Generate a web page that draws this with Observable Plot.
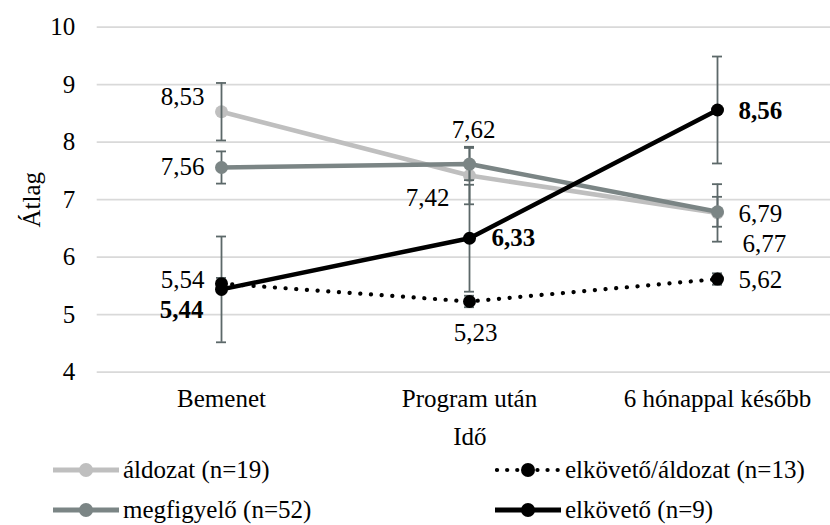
<!DOCTYPE html>
<html><head><meta charset="utf-8">
<script src="https://cdn.jsdelivr.net/npm/d3@7"></script>
<script src="https://cdn.jsdelivr.net/npm/@observablehq/plot@0.6"></script>
<style>
body{margin:0;background:#fff;overflow:hidden;font-family:"Liberation Serif","Times New Roman",serif;}
svg text{font-family:"Liberation Serif","Times New Roman",serif;}
#legend{position:relative;width:830px;height:73px;font-size:25px;color:#000;}
.item{position:absolute;display:flex;align-items:center;height:30px;white-space:nowrap;}
.item svg{margin-right:4px;display:block;}
</style></head><body><div id="chart"></div><div id="legend"></div>
<script>
// ---- data ----
const times = ["Bemenet", "Program után", "6 hónappal később"];
const seriesNames = ["áldozat (n=19)", "megfigyelő (n=52)", "elkövető/áldozat (n=13)", "elkövető (n=9)"];
const aldozat = [8.53, 7.42, 6.77];
const aldozatErr = [0.5, 0.5, 0.5];
const megfigyelo = [7.56, 7.62, 6.79];
const megfigyeloErr = [0.28, 0.28, 0.26];
const elkAldozat = [5.54, 5.23, 5.62];
const elkAldozatErr = [0.1, 0.1, 0.1];
const elkoveto = [5.44, 6.33, 8.56];
const elkovetoErr = [0.92, 0.93, 0.93];
const yTicks = [4, 5, 6, 7, 8, 9, 10];

// ---- styles ----
const values = [aldozat, megfigyelo, elkAldozat, elkoveto];
const errors = [aldozatErr, megfigyeloErr, elkAldozatErr, elkovetoErr];
const colors = ["#bfbfbf", "#7b8585", "#000000", "#000000"];
const dashes = [null, null, "0.1 10.6", null];
const bold = [false, false, false, true];
// label placement: [textAnchor, dx, dy] per series per time
const placement = [
  [["end", -17, -15], ["end", -20, 22], ["start", 25, 31]],
  [["end", -17, -1], ["middle", 4, -34], ["start", 21, 2]],
  [["end", -17, -4], ["middle", 6, 32], ["start", 21, 1]],
  [["end", -18, 21], ["start", 22, 0], ["start", 21, 1]]
];

const rows = [];
seriesNames.forEach((s, i) => times.forEach((t, j) =>
  rows.push({series: s, si: i, ti: j, time: t, value: values[i][j], err: errors[i][j]})));

const fmt = v => d3.format(".2f")(v).replace(".", ",");
const font = '"Liberation Serif","Times New Roman",serif';

function seriesMarks(i) {
  const data = rows.filter(d => d.si === i);
  const opts = {x: "time", y: "value", stroke: colors[i], strokeWidth: 4.5};
  const m = [];
  if (dashes[i]) {
    m.push(Plot.line(data, {...opts, strokeWidth: 4.2, strokeDasharray: dashes[i], strokeLinecap: "round"}));
  } else {
    m.push(Plot.line(data, opts));
  }
  m.push(Plot.dot(data, {x: "time", y: "value", r: 6.5, fill: colors[i], stroke: "none"}));
  return m;
}

const errColor = "#5c6869";
const errMarks = [
  Plot.ruleX(rows, {x: "time", y1: d => d.value - d.err, y2: d => d.value + d.err, stroke: errColor, strokeWidth: 1.8}),
  Plot.tickY(rows, {x: "time", y: d => d.value + d.err, stroke: errColor, strokeWidth: 1.8, insetLeft: 119, insetRight: 119}),
  Plot.tickY(rows, {x: "time", y: d => d.value - d.err, stroke: errColor, strokeWidth: 1.8, insetLeft: 119, insetRight: 119})
];

const labelMarks = rows.map(d => {
  const [anchor, dx, dy] = placement[d.si][d.ti];
  return Plot.text([d], {x: "time", y: "value", text: r => fmt(r.value), textAnchor: anchor, dx, dy,
    fontSize: 25, fontWeight: bold[d.si] ? "bold" : "normal", fill: "#000"});
});

const chart = Plot.plot({
  width: 830,
  height: 452,
  marginLeft: 96.7,
  marginRight: 0,
  marginTop: 26.7,
  marginBottom: 80.3,
  style: {fontFamily: font, fontSize: "25px", color: "#000", background: "#fff"},
  x: {type: "band", domain: times, range: [96.7, 841], padding: 0},
  y: {domain: [4, 10], range: [371.7, 26.7]},
  marks: [
    Plot.gridY(yTicks, {stroke: "#d9d9d9", strokeOpacity: 1, strokeWidth: 1.8}),
    Plot.axisY({ticks: yTicks, tickFormat: d => String(d), tickSize: 0, tickPadding: 22, label: null, fontSize: 25}),
    Plot.axisX({tickSize: 0, tickPadding: 17, label: null, fontSize: 25}),
    Plot.text(["Átlag"], {frameAnchor: "left", dx: -65, rotate: -90, textAnchor: "middle", lineAnchor: "middle", fontSize: 25, fill: "#000"}),
    Plot.text(["Idő"], {frameAnchor: "bottom", dx: 6, dy: 65, textAnchor: "middle", lineAnchor: "middle", fontSize: 25, fill: "#000"}),
    ...seriesMarks(0),
    ...errMarks,
    ...seriesMarks(1),
    ...seriesMarks(2),
    ...seriesMarks(3),
    ...labelMarks
  ]
});
document.getElementById("chart").appendChild(chart);

// ---- legend ----
const legendPos = [[53, 3], [53, 43], [495, 3], [495, 43]];
const legend = document.getElementById("legend");
seriesNames.forEach((s, i) => {
  const item = document.createElement("div");
  item.className = "item";
  item.style.left = legendPos[i][0] + "px";
  item.style.top = legendPos[i][1] + "px";
  const dash = dashes[i] ? `stroke-dasharray="0.1 10" stroke-linecap="round"` : "";
  const sw = dashes[i] ? 4.2 : 5;
  item.innerHTML = `<svg width="66" height="16"><line x1="${dashes[i] ? 2 : 0}" y1="8" x2="66" y2="8" stroke="${colors[i]}" stroke-width="${sw}" ${dash}/><circle cx="33" cy="8" r="7" fill="${colors[i]}"/></svg><span>${s}</span>`;
  legend.appendChild(item);
});
</script>
</body></html>
